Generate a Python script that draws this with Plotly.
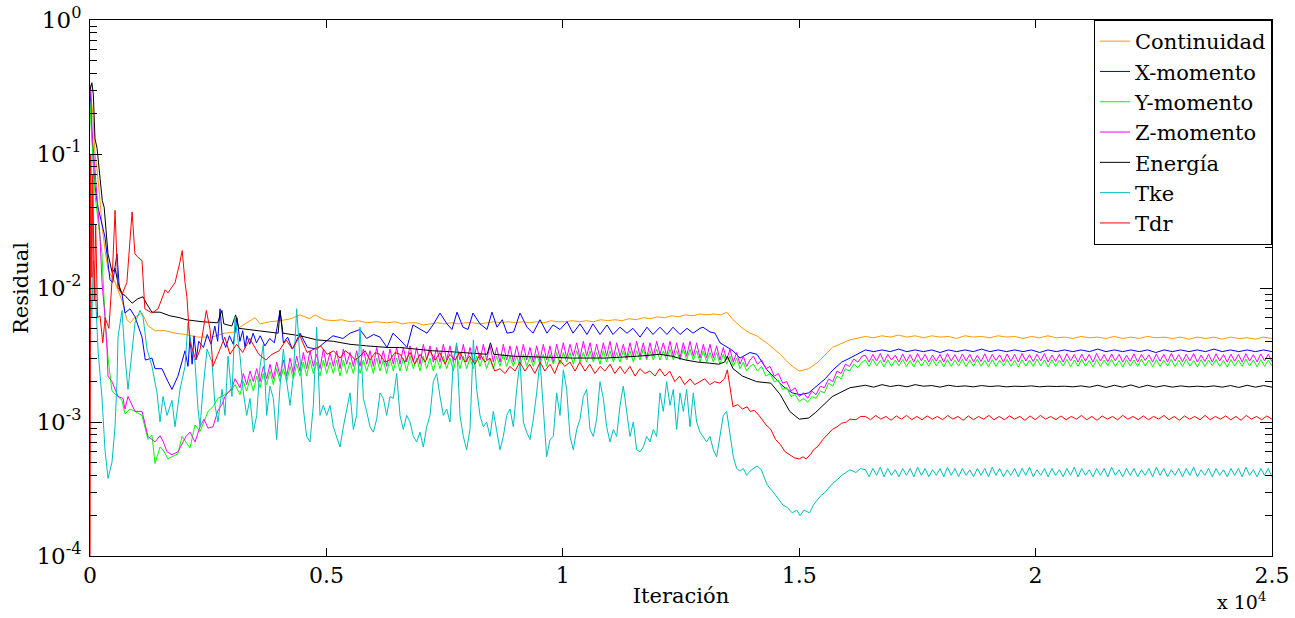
import numpy as np
import plotly.graph_objects as go

FONT = "DejaVu Serif"

# ---------------- axis ticks ----------------
X_TICKS = [0, 5000, 10000, 15000, 20000, 25000]
X_TICK_TEXT = ["0", "0.5", "1", "1.5", "2", "2.5"]
Y_TICKS = [1e-4, 1e-3, 1e-2, 1e-1, 1]
Y_TICK_TEXT = ["10<sup>-4</sup>", "10<sup>-3</sup>", "10<sup>-2</sup>", "10<sup>-1</sup>", "10<sup>0</sup>"]
Y_MINOR = [m * 10.0 ** d for d in (-4, -3, -2, -1) for m in range(2, 10)]

# ---------------- data (residual values in units of 1e-3) ----------------
# explicit (iteration, residual) points
CONT_PTS = [(0,300),(60,200),(106,100),(150,76),(212,45),(260,28),(320,19),(380,13.7),(530,11),(680,8),
            (780,5.8),(850,5.5),(960,6.1),(1100,6.5),(1230,5.2),(1380,4.8),(1590,4.8),(1800,4.6),(2010,4.5),(2280,4.3),
            (2570,4.3),(2850,4.6),(3080,4.7),(3170,5.1),(3490,6.0),(3600,5.4),(3800,5.6),(4020,5.7),(4250,5.9),(4440,6.3),
            (4650,5.9),(4760,6.3),(4950,5.8),(5140,5.7),(5320,5.8),(5500,5.6),(5680,5.7),(5860,5.5),(6070,5.6),(6280,5.5),
            (6450,5.6),(6600,5.4),(6750,5.5),(6900,5.5),(7050,5.3),(7200,5.4),(7350,5.5),(7500,5.4),(7650,5.5),(7800,5.4),
            (7950,5.5),(8100,5.5),(8250,5.4),(8400,5.5),(8550,5.6),(8700,5.5),(8850,5.6),(9000,5.5),(9150,5.6),(9300,5.5),
            (9450,5.6),(9600,5.5),(9750,5.7),(9900,5.6),(10050,5.6),(10200,5.7),(10350,5.6),(10500,5.7),(10650,5.6),(10800,5.8),
            (10950,5.7),(11100,5.8),(11250,5.7),(11400,5.9),(11550,5.8),(11700,6.0),(11850,5.9),(12000,6.1),(12150,6.0),(12300,6.2),
            (12450,6.1),(12600,6.3),(12750,6.2),(12900,6.4),(13050,6.3),(13200,6.4),(13350,6.3),(13470,6.6),(13600,5.8),(13800,5.0),
            (13960,4.6),(14100,4.4),(14350,3.8),(14600,3.2),(14800,2.7),(15000,2.4),(15200,2.5),(15400,2.8),(15700,3.6),(16070,4.1)]
CONT_TAIL = [4.35,4.25,4.4,4.3,4.45,4.3,4.4,4.25,4.4,4.3,4.35,4.2,4.4,4.3,4.35,4.25,4.4,4.3,4.35,4.2,
             4.35,4.25,4.4,4.25,4.3,4.2,4.35,4.25,4.3,4.2,4.35,4.2,4.3,4.2,4.35,4.25,4.3,4.2,4.3,4.15,
             4.3,4.2,4.3,4.15,4.3,4.2,4.25,4.15,4.3,4.2]

XMOM_PTS = [(0,300),(40,120),(70,85),(106,57),(169,40),(317,24),(423,11.5),(480,11),(571,18),(620,10),
            (677,9),(740,6.5),(846,7),(952,6.1),(1100,4.3),(1170,2.9),(1311,3.0),(1375,2.5),(1522,2.5),(1650,2.0),
            (1734,1.75),(1860,2.2),(2009,3.4),(2073,2.6),(2115,4.3),(2160,2.7),(2200,4.4),(2250,3.0),(2300,4.0),(2400,3.6),
            (2480,4.5),(2560,3.8),(2640,5.2),(2700,4.0),(2750,7.0),(2800,4.2),(2870,3.6),(2950,4.4),(3030,3.8),(3110,6.0),
            (3170,4.0),(3230,4.8),(3280,3.6),(3320,4.4),(3380,3.8),(3450,4.6),(3520,3.9),(3600,4.4),(3700,3.7),(3800,4.2),
            (3900,3.9),(4020,6.8),(4090,3.9),(4180,4.3),(4280,3.5),(4360,4.0),(4442,4.6),(4600,3.6),(4800,3.5),(4950,3.9),
            (5140,4.4),(5350,4.2),(5500,4.6),(5710,4.9),(5850,4.2),(6000,4.5),(6134,4.3),(6282,3.6),(6408,4.6),(6557,4.1),
            (6705,3.6),(6831,5.3),(6980,4.9),(7128,4.6),(7254,5.3),(7403,6.5),(7551,5.4),(7656,4.9),(7762,6.6),(7889,5.1),
            (7995,4.9),(8100,6.5),(8249,5.4),(8397,4.9),(8502,6.6),(8608,5.1),(8720,5.8),(8820,4.6),(8960,4.7),(9095,6.5),
            (9243,5.1),(9370,4.6),(9518,5.8),(9666,4.6),(9793,5.3),(9941,4.9),(10089,5.6),(10216,4.6),(10364,5.4),(10512,4.5),
            (10638,5.4),(10787,4.5),(10935,5.3),(11061,4.5),(11210,5.1),(11358,4.6),(11484,5.0),(11633,4.3),(11781,5.1),(11907,4.5),
            (12056,5.1),(12204,4.5),(12330,5.1),(12479,4.5),(12627,5.0),(12754,4.6),(12902,5.0),(12965,5.1),(13113,4.7),(13219,4.6),
            (13325,3.9),(13473,3.6),(13600,3.4),(13748,3.0),(13896,3.2),(13959,3.3),(14107,3.2),(14320,2.45),(14500,2.1),(14657,1.85),
            (14850,1.65),(15017,1.6),(15200,1.65),(15376,1.85),(15550,2.1),(15715,2.45),(15900,2.8),(16074,3.0),(16250,3.25)]
XMOM_TAIL = [3.45,3.35,3.45,3.35,3.5,3.35,3.45,3.35,3.45,3.3,3.45,3.35,3.45,3.35,3.5,3.35,3.45,3.35,3.45,3.35,
             3.45,3.3,3.45,3.35,3.45,3.35,3.45,3.35,3.5,3.35,3.45,3.35,3.45,3.35,3.45,3.3,3.45,3.35,3.45,3.35,
             3.45,3.35,3.5,3.35,3.45,3.35,3.45,3.35,3.45,3.35]

YMOM_PTS = [(0,250),(15,180),(60,100),(106,50),(169,32),(254,18),(275,12),(317,6.1),(381,3.0),(465,1.7),
            (592,1.55),(677,1.45),(740,1.15),(846,1.25),(952,1.2),(1100,1.12),(1227,0.74),(1311,0.8),(1375,0.49),(1481,0.65),
            (1544,0.62),(1650,0.53),(1734,0.55),(1861,0.58),(1946,0.78),(2030,0.7),(2115,0.64),(2221,0.95),(2327,0.85),(2411,1.0),
            (2496,1.2),(2601,1.3),(2707,1.5),(2855,1.6),(3003,1.75),(3067,1.9)]
YMOM_MID = [1.6,2.0,1.7,2.1,1.7,2.2,1.8,2.3,1.9,
            2.4,1.9,2.5,2.0,2.5,2.0,2.6,2.1,2.7,
            2.2,2.8,2.2,2.9,2.3,2.8,2.2,2.9,2.3,2.8,2.3,2.9,2.2,2.9,2.3,2.8,2.3,3.0,2.3,2.9,2.4,2.9,2.3,3.0,2.4,2.9,2.3,3.0,2.4,3.0,
            2.4,3.0,2.4,3.1,2.5,3.0,2.4,3.1,2.5,3.0,2.4,3.0,2.5,3.1,2.5,3.0,2.4,3.1,2.5,3.1,2.5,3.0,2.5,3.1,2.6,3.1,
            2.5,3.0,2.5,3.1,2.6,3.2,2.6,3.1,2.6,3.1,2.6,3.2,2.6,3.1,2.6,3.2,2.7,3.2,2.6,3.2,2.7,3.3,
            2.7,3.3,2.8,3.3,2.7,3.4,2.8,3.3,2.8,3.4,2.8,3.3,2.7,3.4,2.8,3.4,2.8,3.3,2.8,3.4,2.9,3.4,2.8,3.4,
            2.9,3.5,2.9,3.4,2.9,3.5,2.9,3.4,2.9,3.5,2.9,3.4,2.9,3.5,2.9,3.5,2.9,3.4,2.8,3.4,2.8,3.3,2.8,3.3,
            2.7,3.2,2.7,3.1,2.6,3.0,2.5,2.8,2.4,2.6]
YMOM_DIP = [2.7,2.4,2.6,2.2,2.3,2.0,2.05,1.75,1.8,1.55,1.6,1.42,1.5,1.4,1.55,1.5,1.7,1.65,1.95,1.85,
            2.2,2.1,2.5,2.4,2.7,2.55,2.8]
YMOM_TAIL = [2.9,2.6,2.95,2.62,2.88,2.58,2.92,2.6,2.9,2.63,2.93,2.6,2.88,2.57,2.92,2.61,2.9,2.6,2.95,2.62,
             2.9,2.58,2.92,2.6,2.89,2.62,2.93,2.59,2.9,2.6,2.94,2.61,2.88,2.58,2.92,2.6,2.9,2.63,2.93,2.6,
             2.88,2.57,2.92,2.61,2.9,2.6,2.95,2.62,2.9,2.58,2.92,2.6,2.89,2.62,2.93,2.59,2.9,2.6,2.94,2.61,
             2.88,2.58,2.92,2.6,2.9,2.63,2.93,2.6,2.88,2.57,2.92,2.61,2.9,2.6,2.95,2.62,2.9,2.58,2.92,2.6,
             2.89,2.62,2.93,2.59,2.9,2.6,2.94,2.61,2.88,2.58,2.92,2.6,2.9,2.63,2.93,2.6,2.88,2.57,2.92,2.61,
             2.9,2.6,2.95,2.62,2.9,2.58,2.92,2.6,2.89,2.62]

ZMOM_PTS = [(0,330),(20,300),(42,150),(106,76),(169,40),(212,24),(254,11),(317,6.1),(360,3.5),(381,2.2),
            (465,2.0),(592,1.55),(698,1.5),(740,1.25),(804,1.55),(888,1.33),(952,1.2),(1100,1.2),(1163,0.95),(1227,0.78),
            (1311,0.74),(1375,0.71),(1481,0.79),(1544,0.72),(1629,0.6),(1734,0.57),(1861,0.6),(1946,0.68),(2030,0.78),(2115,0.84),
            (2221,0.71),(2327,0.92),(2411,1.05),(2496,0.9),(2601,0.92),(2707,1.22),(2792,1.35),(2855,1.55),(2919,1.65),(3003,1.8),
            (3067,2.1)]
ZMOM_MID = [1.8,2.3,1.9,2.4,2.0,2.5,2.0,2.6,2.1,
            2.7,2.1,2.8,2.2,2.9,2.2,3.0,2.3,3.1,
            2.4,3.3,2.5,3.4,2.6,3.2,2.5,3.5,2.6,3.3,2.6,3.4,2.5,3.5,2.7,3.3,2.6,3.4,2.6,3.5,2.7,3.4,2.6,3.6,2.7,3.4,2.6,3.5,2.7,3.6,
            2.7,3.6,2.8,3.7,2.8,3.6,2.7,3.8,2.9,3.7,2.8,3.6,2.8,3.8,2.9,3.7,2.8,3.7,2.9,3.8,2.8,3.6,2.8,3.7,2.9,3.8,
            2.9,3.7,2.8,3.6,2.8,3.8,2.9,3.7,2.8,3.7,2.9,3.8,2.9,3.6,2.8,3.7,2.9,3.8,2.9,3.7,2.8,3.8,
            3.0,3.9,3.0,3.8,3.1,3.9,3.0,4.0,3.1,3.9,3.0,3.8,3.0,3.9,3.1,4.0,3.0,3.9,3.1,3.8,3.0,3.9,3.1,4.0,
            3.1,3.9,3.0,3.9,3.1,4.0,3.2,3.9,3.1,4.0,3.1,3.9,3.0,3.9,3.1,4.0,3.1,3.9,3.0,3.8,3.0,3.8,3.0,3.7,
            2.9,3.6,2.9,3.5,2.8,3.3,2.7,3.1,2.6,2.9]
ZMOM_DIP = [3.1,2.7,2.9,2.5,2.6,2.2,2.3,1.95,2.0,1.7,1.8,1.55,1.65,1.5,1.7,1.6,1.85,1.8,2.1,2.0,
            2.4,2.3,2.7,2.6,2.95,2.8,3.1]
ZMOM_TAIL = [3.15,2.8,3.2,2.85,3.25,2.8,3.2,2.9,3.15,2.8,3.22,2.83,3.18,2.8,3.25,2.86,3.2,2.8,3.16,2.84,
             3.2,2.8,3.24,2.85,3.18,2.81,3.22,2.86,3.2,2.8,3.15,2.83,3.23,2.8,3.2,2.88,3.17,2.8,3.22,2.84,
             3.2,2.8,3.25,2.85,3.18,2.82,3.2,2.86,3.24,2.8,3.16,2.83,3.2,2.8,3.23,2.86,3.19,2.8,3.21,2.84,
             3.2,2.8,3.25,2.85,3.18,2.81,3.22,2.86,3.2,2.8,3.15,2.83,3.23,2.8,3.2,2.88,3.17,2.8,3.22,2.84,
             3.2,2.8,3.25,2.85,3.18,2.82,3.2,2.86,3.24,2.8,3.16,2.83,3.2,2.8,3.23,2.86,3.19,2.8,3.21,2.84,
             3.2,2.8,3.24,2.85,3.18,2.81,3.22,2.86,3.2,2.82]

ENER_PTS = [(0,300),(40,340),(70,280),(106,130),(150,110),(212,67),(260,45),(300,40),(320,32),(360,23),
            (380,18),(470,13),(530,14),(590,11),(680,9),(740,8.8),(890,7.7),(1010,8.3),(1120,8.6),(1200,7.6),
            (1310,6.6),(1480,6.6),(1690,6.2),(1900,6.0),(2030,5.8),(2370,5.6),(2700,5.5),(2790,6.8),(2830,5.4),(3000,5.2),
            (3080,6.3),(3150,5.0),(3380,4.9),(3740,4.7),(3980,4.6),(4020,6.8),(4080,4.6),(4440,4.4),(4800,4.1),(5150,4.0),
            (5500,3.8),(5850,3.7),(6300,3.6),(6550,3.6),(6900,3.5),(7250,3.4),(7600,3.35),(7950,3.3),(8400,3.2),(8470,3.9),
            (8540,3.2),(8950,3.1),(9600,3.05),(10200,3.0),(10900,3.0),(11300,3.05),(11600,3.1),(12050,3.2),(12300,3.1),(12600,2.9),
            (12850,2.8),(13100,2.75),(13300,2.7),(13420,2.8),(13480,3.1),(13600,2.5),(13800,2.2),(14100,2.0),(14400,1.95),(14600,1.6),
            (14800,1.2),(15000,1.05),(15200,1.07),(15350,1.18),(15700,1.55),(16070,1.8)]
ENER_TAIL = [1.88,1.82,1.9,1.84,1.88,1.83,1.9,1.85,1.87,1.82,1.88,1.84,1.86,1.83,1.87,1.84,1.86,1.83,1.85,1.84,
             1.86,1.83,1.85,1.84,1.85,1.83,1.86,1.82,1.88,1.81,1.88,1.82,1.89,1.81,1.88,1.82,1.87,1.82,1.86,1.83,
             1.85,1.83,1.86,1.82,1.87,1.81,1.88,1.82,1.87,1.82]

TKE_PTS = [(0,17),(40,6),(70,16),(106,11),(169,3.5),(254,1.5),(317,0.62),(381,0.38),(465,0.5),(529,0.92),
           (571,2.0),(592,4.3),(677,6.8),(740,3.1),(804,1.75),(888,3.5),(952,5.5),(1058,6.8),(1121,6.1),(1206,3.5),
           (1311,2.6),(1417,1.65),(1481,1.0),(1544,1.55),(1629,1.12),(1734,1.45),(1798,0.92),(1904,1.75),(2009,2.6),(2073,5.5),
           (2157,3.5),(2221,2.8),(2284,1.25),(2327,0.92),(2390,1.75),(2475,3.5),(2580,2.8),(2644,1.33),(2707,1.0),(2792,1.75),
           (2855,1.12),(2919,3.1),(3003,1.55),(3067,6.1)]
TKE_MID = [3.1,1.65,1.12,1.5,0.84,1.12,2.6,3.8,1.12,1.85,1.5,0.74,1.85,3.5,2.0,1.33,2.2,7.0,3.1,
           1.25,0.78,0.71,1.33,5.1,1.12,1.33,1.12,1.33,0.92,0.78,0.65,0.92,1.25,1.65,0.88,1.12,5.1,1.5,1.2,
           0.92,0.84,1.05,1.65,1.5,1.12,1.55,1.5,2.3,1.12,0.88,1.12,1.0,0.78,0.71,0.84,0.65,0.92,1.12,2.0,
           2.3,1.55,1.12,1.25,1.0,2.9,3.9,1.12,0.78,0.62,0.88,4.1,1.75,1.12,0.92,1.0,0.78,1.2,0.88,0.62,
           0.78,1.12,1.25,0.92,1.75,2.9,1.0,0.84,0.74,1.05,1.65,2.9,1.25,0.55,0.74,0.78,1.65,1.12,2.45,1.75,
           0.78,0.62,0.88,1.05,1.55,1.75,0.88,0.78,1.05,2.0,1.5,0.92,0.71,0.88,0.78,1.33,1.85,1.25,0.78,1.0,
           0.62,0.60,0.65,0.78,0.71,0.88,0.78,1.65,1.2,2.0,1.33,1.75,0.88,1.65,1.2,1.75,0.92,1.65,1.0,0.84,
           0.78,0.71,0.78,0.62,0.55,0.78,1.12,1.2,0.78,0.55,0.45,0.43,0.45,0.40,0.43]
TKE_DIP = [(14107,0.47),(14200,0.44),(14320,0.34),(14450,0.3),(14550,0.27),(14657,0.24),(14750,0.23),(14850,0.21),
           (14950,0.22),(15017,0.2),(15100,0.22),(15220,0.21),(15300,0.24),(15376,0.26),(15450,0.28),(15550,0.3),
           (15715,0.35),(15800,0.37),(15900,0.4),(16074,0.44),(16200,0.42),(16300,0.45)]
TKE_TAIL = [0.44,0.39,0.45,0.40,0.46,0.39,0.45,0.40,0.44,0.39,0.45,0.40,0.45,0.39,0.46,0.40,0.45,0.39,0.44,0.40,
            0.45,0.39,0.46,0.40,0.45,0.39,0.45,0.40,0.44,0.39,0.45,0.40,0.45,0.39,0.46,0.40,0.45,0.39,0.44,0.40,
            0.45,0.39,0.45,0.40,0.46,0.39,0.44,0.40,0.45,0.39,0.45,0.40,0.44,0.39,0.45,0.40,0.46,0.39,0.45,0.40,
            0.44,0.39,0.45,0.40,0.45,0.39,0.46,0.40,0.44,0.39,0.45,0.40,0.45,0.39,0.44,0.40,0.45,0.39,0.46,0.40,
            0.45,0.39,0.44,0.40,0.45,0.39,0.45,0.40,0.46,0.39,0.44,0.40,0.45,0.39,0.45,0.40,0.44,0.39,0.45,0.40,
            0.45,0.39,0.46,0.40,0.44,0.39,0.45,0.40,0.45,0.39]

TDR_PTS = [(0,0.05),(15,100),(40,12),(60,70),(90,8),(120,30),(160,6),(212,6.2),(270,3.9),(320,6),
           (400,5),(470,12),(530,38),(590,10),(680,9),(780,11),(890,37),(950,18),(1010,17),(1100,16),
           (1160,7),(1310,6.5),(1440,7),(1590,9.7),(1650,9.2),(1800,11),(1900,15.5),(1950,19),(2010,11),(2050,8.6),
           (2110,4),(2240,2.9),(2330,3.5),(2390,4.9),(2460,6.8),(2540,4.9),(2600,2.6),(2750,3.5),(2850,4.3),(2960,3.2),
           (3100,3.8),(3230,3.3),(3380,4.2),(3570,3.2),(3720,2.9),(3850,3.2),(4000,3.4),(4150,4.1),(4280,3.5),(4440,4.4),
           (4590,3.3),(4740,3.5),(4880,3.7),(5020,3.2),(5150,3.4),(5290,3.0),(5400,3.4),(5500,3.2),(5610,2.9),(5710,3.1),
           (5820,3.4),(5920,2.9),(6030,3.3),(6130,3.2),(6240,2.8),(6340,2.9),(6450,3.3),(6560,3.2),(6660,2.8),(6770,3.3),
           (6870,2.7),(6980,3.2),(7090,2.8),(7190,3.4),(7300,2.9),(7400,3.3),(7510,2.7),(7610,3.2),(7720,2.9),(7820,3.3),
           (7930,2.8),(8030,3.1),(8140,2.7),(8250,3.2),(8350,2.8),(8460,3.0),(8560,2.4),(8670,2.5),(8780,2.3),(8880,2.6),
           (8990,2.4),(9090,2.8),(9200,2.4),(9300,2.7),(9410,2.3),(9520,2.8),(9620,2.4),(9730,2.7),(9830,2.3),(9940,2.9),
           (10040,2.6),(10150,2.8),(10260,2.4),(10360,2.8),(10470,2.4),(10570,2.7),(10680,2.3),(10790,2.6),(10890,2.4),(11000,2.7),
           (11100,2.3),(11210,2.6),(11310,2.3),(11420,2.6),(11530,2.2),(11630,2.5),(11740,2.3),(11840,2.4),(11950,2.2),(12050,2.5),
           (12160,2.2),(12260,2.4),(12370,2.0),(12470,2.2),(12580,1.9),(12690,2.1),(12790,1.9),(12900,2.0),(13000,2.1),(13110,1.9),
           (13210,2.0),(13320,1.95),(13420,2.1),(13480,2.45),(13600,1.3),(13700,1.35),(13800,1.25),(13900,1.3),(13960,1.2),(14050,1.22),
           (14150,1.12),(14300,0.95),(14400,0.88),(14500,0.74),(14600,0.68),(14700,0.6),(14800,0.57),(14900,0.54),(15000,0.53),(15080,0.55),
           (15150,0.53),(15250,0.58),(15300,0.62),(15400,0.66),(15500,0.74),(15600,0.8),(15700,0.88),(15800,0.92),(15900,0.98),(16000,1.0),
           (16070,1.05),(16200,1.04),(16300,1.1)]
TDR_TAIL = [1.1,1.04,1.12,1.05,1.1,1.03,1.11,1.05,1.12,1.04,1.1,1.04,1.11,1.05,1.1,1.04,1.12,1.05,1.1,1.03,
            1.11,1.04,1.1,1.05,1.12,1.04,1.1,1.04,1.11,1.05,1.1,1.03,1.11,1.04,1.12,1.05,1.1,1.04,1.11,1.04,
            1.1,1.05,1.12,1.04,1.1,1.03,1.11,1.05,1.1,1.04,1.12,1.05,1.1,1.04,1.11,1.04,1.1,1.05,1.12,1.04,
            1.1,1.03,1.11,1.05,1.1,1.04,1.12,1.04,1.1,1.05,1.11,1.04,1.1,1.03,1.12,1.05,1.1,1.04,1.11,1.05]

# iteration spans of the evenly sampled stretches
MID_SPAN = (3173, 13959)
DIP_SPAN = (14030, 16330)
TAIL_SPAN = (16400, 25000)


def assemble(*parts):
    xs, ys = [], []
    for p in parts:
        if p[0] == "pts":
            xs += [a for a, _ in p[1]]
            ys += [b for _, b in p[1]]
        else:
            (a, b), vals = p[1], p[2]
            xs += list(np.linspace(a, b, len(vals)))
            ys += list(vals)
    return np.array(xs), np.array(ys) * 1e-3


SERIES = [
    ("Continuidad", "#FF9900", assemble(("pts", CONT_PTS), ("even", TAIL_SPAN, CONT_TAIL))),
    ("X-momento", "#0000FF", assemble(("pts", XMOM_PTS), ("even", TAIL_SPAN, XMOM_TAIL))),
    ("Y-momento", "#00FF00", assemble(("pts", YMOM_PTS), ("even", MID_SPAN, YMOM_MID),
                                      ("even", DIP_SPAN, YMOM_DIP), ("even", TAIL_SPAN, YMOM_TAIL))),
    ("Z-momento", "#FF00FF", assemble(("pts", ZMOM_PTS), ("even", MID_SPAN, ZMOM_MID),
                                      ("even", DIP_SPAN, ZMOM_DIP), ("even", TAIL_SPAN, ZMOM_TAIL))),
    ("Energía", "#000000", assemble(("pts", ENER_PTS), ("even", TAIL_SPAN, ENER_TAIL))),
    ("Tke", "#00BFBF", assemble(("pts", TKE_PTS), ("even", MID_SPAN, TKE_MID),
                                ("pts", TKE_DIP), ("even", TAIL_SPAN, TKE_TAIL))),
    ("Tdr", "#FF0000", assemble(("pts", TDR_PTS), ("even", TAIL_SPAN, TDR_TAIL))),
]

fig = go.Figure()
for name, color, (x, y) in SERIES:
    fig.add_trace(go.Scatter(x=x, y=y, mode="lines", name=name,
                             line=dict(color=color, width=1)))

fig.update_layout(
    width=1295, height=618,
    margin=dict(l=90, r=23, t=20, b=62, autoexpand=False),
    paper_bgcolor="white", plot_bgcolor="white",
    font=dict(family=FONT, color="black"),
    showlegend=True,
    legend=dict(x=1, y=1, xanchor="right", yanchor="top",
                bordercolor="black", borderwidth=1, bgcolor="white",
                font=dict(family=FONT, size=21, color="black"),
                tracegroupgap=0, itemwidth=30),
    annotations=[dict(text="x 10<sup>4</sup>", xref="paper", yref="paper",
                      x=0.9966, y=-0.111, xanchor="right", yanchor="bottom",
                      showarrow=False, font=dict(family=FONT, size=19, color="black"))],
)
fig.update_xaxes(range=[0, 25000], tickmode="array", tickvals=X_TICKS, ticktext=X_TICK_TEXT,
                 ticks="inside", ticklen=8, tickcolor="black", tickwidth=1, automargin=False,
                 showline=True, linecolor="black", linewidth=1, mirror="ticks",
                 showgrid=False, zeroline=False, tickfont=dict(family=FONT, size=22, color="black"),
                 title=dict(text="Iteración", font=dict(family=FONT, size=21, color="black"), standoff=0))
fig.update_yaxes(type="log", range=[-4, 0], tickmode="array", tickvals=Y_TICKS, ticktext=Y_TICK_TEXT,
                 ticks="inside", ticklen=12, tickcolor="black", tickwidth=1, automargin=False,
                 minor=dict(tickmode="array", tickvals=Y_MINOR, ticks="inside", ticklen=7,
                            tickcolor="black", showgrid=False),
                 showline=True, linecolor="black", linewidth=1, mirror="ticks",
                 showgrid=False, zeroline=False, tickfont=dict(family=FONT, size=23, color="black"),
                 ticklabelstandoff=3,
                 title=dict(text="Residual", font=dict(family=FONT, size=21, color="black"), standoff=2))

fig.write_html("out.html")
